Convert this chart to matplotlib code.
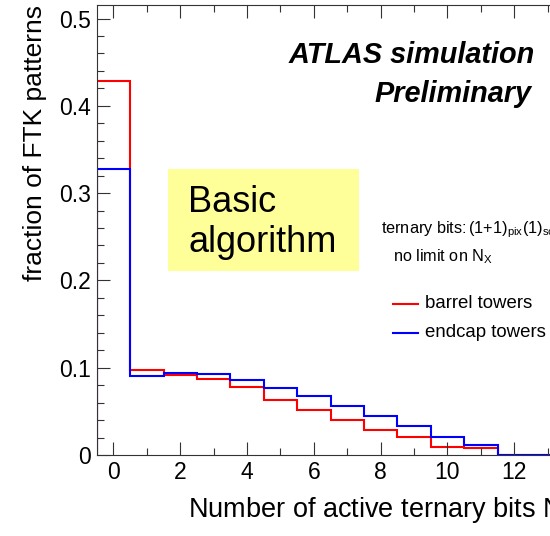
import numpy as np
import matplotlib
matplotlib.use("Agg")
import matplotlib.pyplot as plt
from matplotlib.lines import Line2D
from matplotlib.patches import Rectangle
from matplotlib.ticker import MultipleLocator

plt.rcParams['font.family'] = ['Liberation Sans', 'DejaVu Sans']
plt.rcParams['mathtext.fontset'] = 'custom'
plt.rcParams['mathtext.rm'] = 'Liberation Sans'
plt.rcParams['mathtext.default'] = 'regular'

# number of active ternary bits, one bin per integer
bin_edges = np.arange(-0.5, 16.0, 1.0)
barrel = [0.428, 0.097, 0.0916, 0.0871, 0.0783, 0.0634, 0.0519, 0.0397,
          0.029, 0.0206, 0.0095, 0.008, 0, 0, 0, 0]
endcap = [0.328, 0.0908, 0.0939, 0.0928, 0.0855, 0.0771, 0.0672, 0.0561,
          0.045, 0.0332, 0.0203, 0.0118, 0, 0, 0, 0]

W, H = 550, 536
fig = plt.figure(figsize=(W / 100, H / 100), dpi=100)

# frame runs past the right edge of the canvas
left, top, bottom = 96.7, 5, 455
px_per_bin = 33.4
width = px_per_bin * (bin_edges[-1] - bin_edges[0])
ax = fig.add_axes([left / W, 1 - bottom / H, width / W, (bottom - top) / H])

ax.stairs(barrel, bin_edges, color='#ff0000', lw=1.5, baseline=0)
ax.stairs(endcap, bin_edges, color='#0000ff', lw=1.5, baseline=0)

ax.set_xlim(bin_edges[0], bin_edges[-1])
ax.set_ylim(0, 0.5155)

ax.xaxis.set_major_locator(MultipleLocator(2))
ax.xaxis.set_minor_locator(MultipleLocator(1))
ax.yaxis.set_major_locator(MultipleLocator(0.1))
ax.yaxis.set_minor_locator(MultipleLocator(0.02))
ax.yaxis.set_major_formatter(lambda v, p: '0' if abs(v) < 1e-9 else f'{v:.1f}')

ax.tick_params(which='both', direction='in', top=True, right=True,
               color='#333333', width=0.8, labelsize=16.5)
ax.tick_params(which='major', length=9.5)
ax.tick_params(which='minor', length=5)
ax.tick_params(axis='x', pad=4.5)
ax.tick_params(axis='y', pad=4)
for s in ax.spines.values():
    s.set_color('#333333')
    s.set_linewidth(0.8)

fig.text(188 / W, 1 - 517.3 / H, r'Number of active ternary bits N$_{X}$',
         fontsize=19.5, ha='left', va='baseline')
fig.text(35 / W, 1 - 5 / H, 'fraction of FTK patterns', fontsize=19,
         rotation=90, ha='center', va='top')

fig.text(535 / W, 1 - 63 / H, 'ATLAS simulation', fontsize=20.8,
         fontweight='bold', fontstyle='italic', ha='right', va='baseline')
fig.text(531.7 / W, 1 - 101.7 / H, 'Preliminary', fontsize=20.8,
         fontweight='bold', fontstyle='italic', ha='right', va='baseline')

# yellow label box
fig.add_artist(Rectangle((168 / W, 1 - 271 / H), (359.3 - 168) / W,
                         (271 - 169.3) / H, transform=fig.transFigure,
                         facecolor='#ffff99', edgecolor='none'))
fig.text(188 / W, 1 - 211.7 / H, 'Basic', fontsize=26, va='baseline')
fig.text(188 / W, 1 - 251.7 / H, 'algorithm', fontsize=26, va='baseline')

fig.text(380.7 / W, 1 - 233 / H, r'ternary bits:$\,$(1+1)$_{pix}$(1)$_{sct}$',
         fontsize=11.7, va='baseline')
fig.text(393 / W, 1 - 261.7 / H, r'no limit on N$_{X}$', fontsize=11.7,
         va='baseline')

# legend
for y, c, lab in [(304, '#ff0000', 'barrel towers'),
                  (332.7, '#0000ff', 'endcap towers')]:
    fig.add_artist(Line2D([392.7 / W, 418.3 / W], [1 - y / H, 1 - y / H],
                          color=c, lw=1.5, transform=fig.transFigure))
    fig.text(425 / W, 1 - y / H, lab, fontsize=13.4, va='center')

fig.savefig('out.png', dpi=100)
